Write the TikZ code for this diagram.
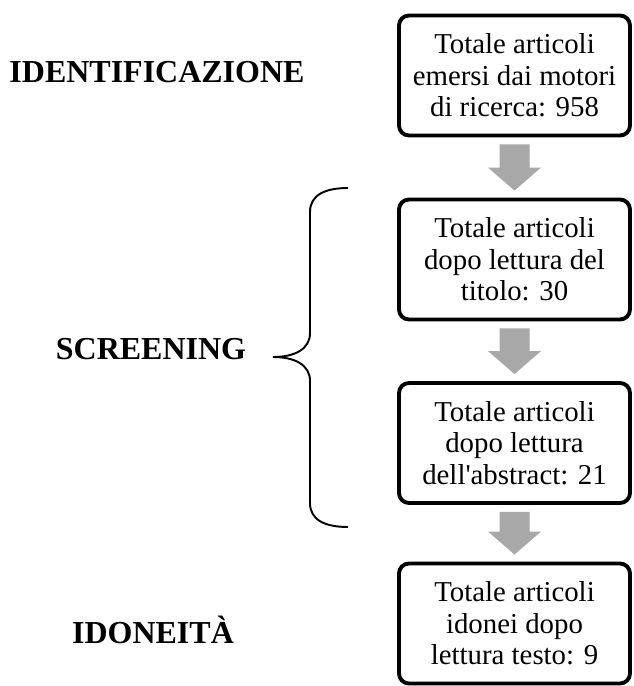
\documentclass[tikz,border=0pt]{standalone}
\usepackage{fontspec}
\setmainfont{Liberation Serif}
\usepackage{tikz}
\definecolor{flgray}{RGB}{168,168,168}
\usetikzlibrary{calc}

\begin{document}
\begin{tikzpicture}[
  bx/.style={draw, line width=2.2pt, rounded corners=0.2cm, minimum width=4.62cm,
    minimum height=2.4cm, align=center, inner sep=0pt,
    font=\fontsize{16.4}{17.9}\selectfont},
  phase/.style={anchor=base, font=\fontsize{18.2}{20}\selectfont\bfseries}]
\useasboundingbox (0,0) rectangle (12.66,-13.72);
% Boxes
\node[bx] (tot) at (10.29,-1.51) {Totale articoli\\emersi dai motori\\di ricerca: 958};
\node[bx] (titolo) at (10.29,-5.19) {Totale articoli\\dopo lettura del\\titolo: 30};
\node[bx] (abstract) at (10.29,-8.86) {Totale articoli\\dopo lettura\\dell\textquotesingle abstract: 21};
\node[bx] (idonei) at (10.29,-12.47) {Totale articoli\\idonei dopo\\lettura testo: 9};
% Phases
\node[phase] (lident) at (3.14,-1.66) {IDENTIFICAZIONE};
\node[phase] (lscreen) at (3.02,-7.18) {SCREENING};
\node[phase] (lidon) at (3.06,-12.86) {IDONEITÀ};
% Block arrows
\foreach \a/\b in {tot/titolo, titolo/abstract, abstract/idonei}
  \fill[flgray] ([xshift=-0.3cm,yshift=-0.14cm]\a.south) -- ([xshift=0.3cm,yshift=-0.14cm]\a.south)
    -- ([xshift=0.3cm,yshift=0.6cm]\b.north) -- ([xshift=0.53cm,yshift=0.6cm]\b.north)
    -- ([yshift=0.14cm]\b.north) -- ([xshift=-0.53cm,yshift=0.6cm]\b.north)
    -- ([xshift=-0.3cm,yshift=0.6cm]\b.north) -- cycle;
% Brace
\coordinate (btop) at (6.96,-3.76);
\coordinate (btip) at (5.46,-7.14);
\coordinate (bbot) at (6.96,-10.54);
\draw[line width=1.1pt] (btop) .. controls (6.5,-3.76) and (6.2,-3.9) .. (6.2,-4.24) -- (6.2,-6.66)
  .. controls (6.2,-6.98) and (5.9,-7.14) .. (btip)
  .. controls (5.9,-7.14) and (6.2,-7.3) .. (6.2,-7.62) -- (6.2,-10.06)
  .. controls (6.2,-10.4) and (6.5,-10.54) .. (bbot);
\end{tikzpicture}
\end{document}
